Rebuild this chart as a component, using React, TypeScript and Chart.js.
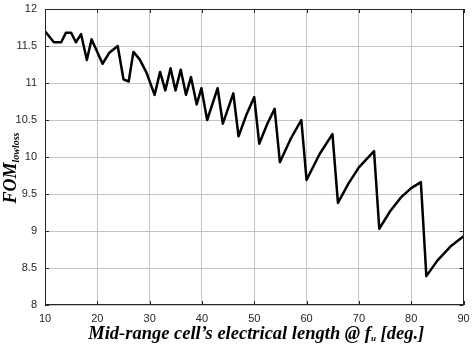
import React, { useEffect, useRef } from "react";
import { Chart, registerables } from "chart.js";

Chart.register(...registerables);

// Mid-range cell electrical length at f_u (degrees)
const lengthDeg = [
  10, 11.7, 13.1, 14.0, 15.0, 15.9, 16.9, 18.0, 18.9, 21.0, 22.3, 23.9, 25.0, 26.0,
  26.9, 28.1, 29.4, 30.95, 32.0, 33.0, 34.0, 34.95, 35.95, 36.95, 37.9, 39.0, 39.9,
  41.0, 43.0, 44.0, 46.0, 47.0, 48.5, 50.0, 50.95, 52.5, 53.9, 54.9, 57.0, 59.0,
  60.0, 62.5, 64.95, 66.0, 68.0, 70.0, 72.9, 73.9, 76.0, 78.0, 80.0, 81.85, 82.9,
  85.0, 87.5, 90.0,
];

// Low-loss figure of merit at each length
const fomLowloss = [
  11.70, 11.55, 11.55, 11.68, 11.68, 11.55, 11.66, 11.31, 11.59, 11.26, 11.41, 11.50,
  11.05, 11.02, 11.42, 11.32, 11.14, 10.84, 11.15, 10.90, 11.20, 10.90, 11.18, 10.84,
  11.08, 10.71, 10.93, 10.50, 10.93, 10.45, 10.86, 10.28, 10.57, 10.81, 10.18, 10.45,
  10.65, 9.93, 10.25, 10.50, 9.69, 10.04, 10.31, 9.38, 9.64, 9.86, 10.08, 9.03, 9.27,
  9.45, 9.58, 9.66, 8.39, 8.60, 8.79, 8.93,
];

const xTicks = [10, 20, 30, 40, 50, 60, 70, 80, 90];
const yTicks = [8, 8.5, 9, 9.5, 10, 10.5, 11, 11.5, 12];

const INK = "#262626";
const GRID = "#c4c4c4";
const SERIF = "'Liberation Serif', 'Times New Roman', serif";

// Box outline, inward ticks on every side, and the two axis titles with subscripts
const framePlugin = {
  id: "frameAndTitles",
  afterDraw(chart: any) {
    const { ctx, chartArea: a, scales } = chart;
    const xs = scales.x;
    const ys = scales.y;
    ctx.save();
    ctx.strokeStyle = INK;
    ctx.lineWidth = 1;
    ctx.strokeRect(Math.round(a.left) + 0.5, Math.round(a.top) + 0.5,
      Math.round(a.right - a.left) - 1, Math.round(a.bottom - a.top) - 1);
    const tl = 4;
    ctx.beginPath();
    xTicks.forEach((v) => {
      const px = Math.round(xs.getPixelForValue(v)) + 0.5;
      ctx.moveTo(px, a.bottom);
      ctx.lineTo(px, a.bottom - tl);
      ctx.moveTo(px, a.top);
      ctx.lineTo(px, a.top + tl);
    });
    yTicks.forEach((v) => {
      const py = Math.round(ys.getPixelForValue(v)) + 0.5;
      ctx.moveTo(a.left, py);
      ctx.lineTo(a.left + tl, py);
      ctx.moveTo(a.right, py);
      ctx.lineTo(a.right - tl, py);
    });
    ctx.stroke();

    // x-axis title
    ctx.fillStyle = "#000";
    ctx.textBaseline = "alphabetic";
    const big = `italic bold 18.5px ${SERIF}`;
    const small = `italic bold 9px ${SERIF}`;
    const segs = [
      { t: "Mid-range cell\u2019s electrical length @ ", f: big, dy: 0 },
      { t: "f", f: big, dy: 0 },
      { t: "u", f: small, dy: 2 },
      { t: " [deg.]", f: big, dy: 0 },
    ];
    let total = 0;
    segs.forEach((s) => {
      ctx.font = s.f;
      total += ctx.measureText(s.t).width;
    });
    let x = (a.left + a.right) / 2 - total / 2 + 2;
    const base = 339;
    segs.forEach((s) => {
      ctx.font = s.f;
      ctx.textAlign = "left";
      ctx.fillText(s.t, x, base + s.dy);
      x += ctx.measureText(s.t).width;
    });

    // y-axis title, rotated
    ctx.translate(16, 168);
    ctx.rotate(-Math.PI / 2);
    const yBig = `italic bold 18px ${SERIF}`;
    const ySmall = `italic bold 10px ${SERIF}`;
    ctx.font = yBig;
    const w1 = ctx.measureText("FOM").width;
    ctx.font = ySmall;
    const w2 = ctx.measureText("lowloss").width;
    let yx = -(w1 + w2) / 2;
    ctx.font = yBig;
    ctx.fillText("FOM", yx, 0);
    yx += w1;
    ctx.font = ySmall;
    ctx.fillText("lowloss", yx, 3);
    ctx.restore();
  },
};

const noOverhang = (s: any) => {
  s.paddingTop = 0;
  s.paddingBottom = 0;
  s.paddingLeft = 0;
  s.paddingRight = 0;
};

export default function App() {
  const ref = useRef<HTMLCanvasElement | null>(null);

  useEffect(() => {
    const canvas = ref.current;
    if (!canvas) return;
    const points = lengthDeg.map((v, i) => ({ x: v, y: fomLowloss[i] }));
    const tickFont = { family: "'Liberation Sans', Arial, sans-serif", size: 11 };
    const chart = new Chart(canvas, {
      type: "scatter",
      data: {
        datasets: [
          {
            data: points,
            showLine: true,
            borderColor: "#000",
            backgroundColor: "#000",
            borderWidth: 2.5,
            pointRadius: 0,
            tension: 0,
            borderJoinStyle: "round",
            borderCapStyle: "round",
          },
        ],
      },
      options: {
        responsive: false,
        animation: false,
        devicePixelRatio: 1,
        layout: { padding: { top: 9, right: 8.5, left: 0, bottom: 0 } },
        plugins: { legend: { display: false }, tooltip: { enabled: false } },
        scales: {
          x: {
            type: "linear",
            min: 10,
            max: 90,
            afterBuildTicks: (s: any) => {
              s.ticks = xTicks.map((v) => ({ value: v }));
            },
            afterFit: (s: any) => {
              s.height = 43;
              noOverhang(s);
            },
            grid: { color: GRID, drawTicks: false },
            border: { display: false },
            ticks: { color: INK, font: tickFont, padding: 7, maxRotation: 0, callback: (v: any) => String(v) },
          },
          y: {
            type: "linear",
            min: 8,
            max: 12,
            afterBuildTicks: (s: any) => {
              s.ticks = yTicks.map((v) => ({ value: v }));
            },
            afterFit: (s: any) => {
              s.width = 45;
              noOverhang(s);
            },
            grid: { color: GRID, drawTicks: false },
            border: { display: false },
            ticks: { color: INK, font: tickFont, padding: 8, callback: (v: any) => String(v) },
          },
        },
      },
      plugins: [framePlugin],
    });
    return () => chart.destroy();
  }, []);

  return (
    <div style={{ position: "absolute", left: 0, top: 0, width: 472, height: 348, background: "#fff" }}>
      <canvas ref={ref} width={472} height={348} style={{ display: "block" }} />
    </div>
  );
}
